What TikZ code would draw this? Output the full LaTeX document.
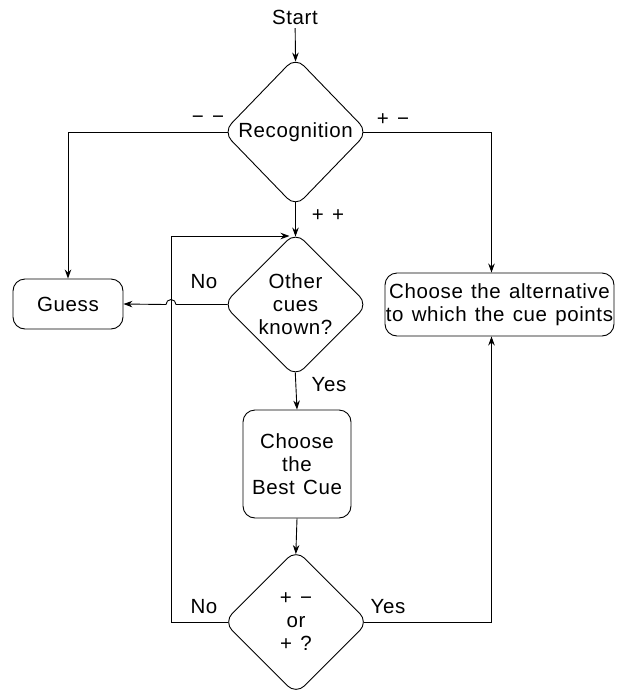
\documentclass[tikz,border=0pt]{standalone}
\usepackage{fontspec}
\setmainfont{Liberation Sans}[LetterSpace=3,WordSpace=1.3]
\usetikzlibrary{calc,arrows.meta,shapes.geometric}

\begin{document}
\begin{tikzpicture}[x=1pt,y=-1pt,
		font=\fontsize{20.5}{23}\selectfont,
		line width=0.9pt,
		arr/.style={-{Stealth[length=9pt,width=6.5pt]}},
		decision/.style={draw,diamond,rounded corners=12pt,inner sep=0pt,minimum width=145pt,minimum height=145pt,align=center},
		box/.style={draw,rectangle,rounded corners=12pt,inner sep=0pt,align=center}]
			\useasboundingbox (0,0) rectangle (617,694);
			
			\node (start) at (295,17) {Start};
			\node[decision,minimum height=150pt] (recog) at (295.5,132) {Recognition};
			\node[decision] (cues) at (295.5,304.5) {Other\\cues\\known?};
			\node[box,minimum width=108pt,minimum height=108pt] (best) at (297,464) {Choose\\the\\Best Cue};
			\node[decision] (test) at (296,622) {+ −\\or\\+ ?};
			\node[box,minimum width=110pt,minimum height=50pt] (guess) at (68,304) {Guess};
			\node[box,minimum width=229pt,minimum height=63pt] (alt) at (499.5,304.5) {Choose the alternative\\to which the cue points};
			\coordinate (loop) at (171,236);
			
			\draw[arr,shorten >=-5pt] (start) -- (recog.north);
			\draw[arr,shorten <=-5pt,shorten >=-5pt] (recog.south) -- (cues.north);
			\draw[arr,shorten <=-5pt] (recog.west) -| (guess.north);
			\draw[arr,shorten <=-5pt] (recog.east) -| ([xshift=-8pt]alt.north);
			\draw[arr,shorten <=-5pt] (cues.south) -- (best.north);
			\draw[arr,shorten >=-5pt] (best.south) -- (test.north);
			\draw[arr,shorten <=-5pt] (test.east) -| ([xshift=-8pt]alt.south);
			\draw[arr,shorten <=-5pt] (test.west) -| (loop) -- ([xshift=-6pt]cues.north |- loop);
			\draw[arr,shorten <=-5pt] (cues.west) -- ($(loop |- cues.west)+(5,0)$) arc[start angle=0,end angle=180,radius=5pt] -- (guess.east);
			
			\node (mm) at (208,120) {− −};
			\node (pm) at (393,120) {+ −};
			\node (pp) at (328,216) {+ +};
			\node (no1) at (204,282) {No};
			\node (yes1) at (329,385) {Yes};
			\node (no2) at (204,607) {No};
			\node (yes2) at (388,607) {Yes};
			\end{tikzpicture}
\end{document}
